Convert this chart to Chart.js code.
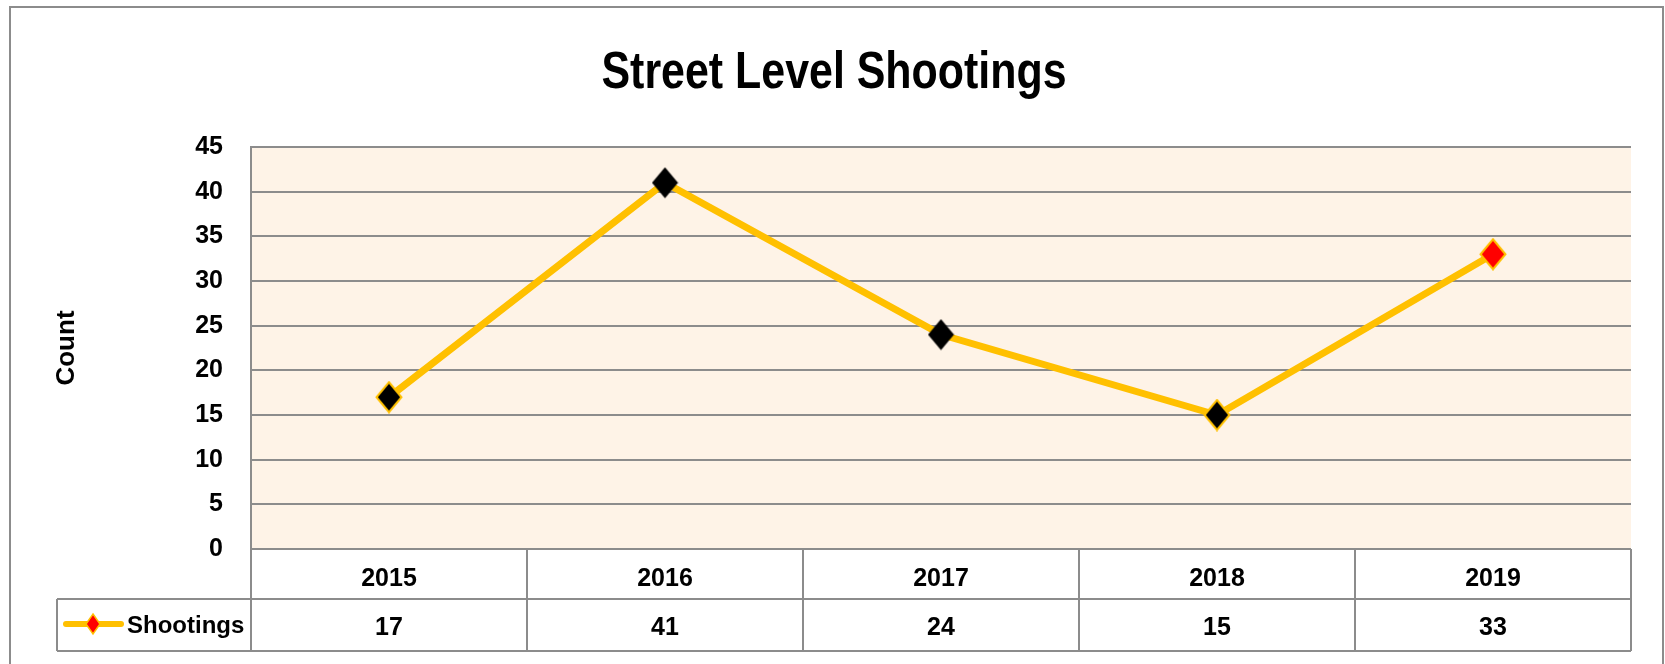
<!DOCTYPE html>
<html>
<head>
<meta charset="utf-8">
<script src="https://cdn.jsdelivr.net/npm/chart.js@4.4.1/dist/chart.umd.min.js"></script>
<style>
  html, body { margin: 0; padding: 0; background: #fff; }
  canvas { display: block; }
</style>
</head>
<body>
<canvas id="shootingsChart" width="1665" height="664"></canvas>
<script>
// Datos del gráfico
const years = ['2015', '2016', '2017', '2018', '2019'];
const shootings = [17, 41, 24, 15, 33];
const seriesName = 'Shootings';
const chartTitle = 'Street Level Shootings';
const yMin = 0, yMax = 45, yStep = 5;

const gold = '#ffc000';
const gridGray = '#8c8c8c';

// Rombo como imagen (un poco más alto que ancho, como en el original)
function diamond(fill, stroke, w, h) {
    const c = document.createElement('canvas');
    c.width = w;
    c.height = h;
    const g = c.getContext('2d');
    const lw = stroke ? 2 : 0;
    g.beginPath();
    g.moveTo(w / 2, lw / 2 + 0.5);
    g.lineTo(w - lw / 2 - 0.5, h / 2);
    g.lineTo(w / 2, h - lw / 2 - 0.5);
    g.lineTo(lw / 2 + 0.5, h / 2);
    g.closePath();
    g.fillStyle = fill;
    g.fill();
    if (stroke) {
        g.lineWidth = lw;
        g.strokeStyle = stroke;
        g.stroke();
    }
    return c;
}

const dBlackGold = diamond('#000', gold, 28, 33);
const dBlack = diamond('#000', null, 27, 32);
const dRedGold = diamond('#ff0000', gold, 28, 33);

// Fondo, marco exterior, título y tabla de datos
const tablePlugin = {
    id: 'dataTable',
    beforeDraw(chart) {
        const { ctx, chartArea: a } = chart;
        ctx.save();
        ctx.fillStyle = '#fef3e7';
        ctx.fillRect(a.left, a.top, a.right - a.left, a.bottom - a.top);
        ctx.strokeStyle = gridGray;
        ctx.lineWidth = 2;
        ctx.beginPath();
        ctx.moveTo(10, 664);
        ctx.lineTo(10, 7);
        ctx.lineTo(1663, 7);
        ctx.lineTo(1663, 664);
        ctx.stroke();

        // título estrecho (tipo Calibri)
        ctx.font = 'bold 52px "Liberation Sans", Arial, sans-serif';
        const w = ctx.measureText(chartTitle).width;
        ctx.translate(834, 88);
        ctx.scale(465 / w, 1);
        ctx.fillStyle = '#000';
        ctx.textAlign = 'center';
        ctx.textBaseline = 'alphabetic';
        ctx.fillText(chartTitle, 0, 0);
        ctx.restore();
    },
    afterDraw(chart) {
        const { ctx, chartArea: a, scales: { x } } = chart;
        const half = (a.right - a.left) / years.length / 2;
        const top = a.bottom, mid = a.bottom + 50, bot = a.bottom + 102;
        const legendLeft = 57;
        ctx.save();
        ctx.strokeStyle = gridGray;
        ctx.lineWidth = 2;
        ctx.beginPath();
        ctx.moveTo(a.left, top); ctx.lineTo(a.right, top);
        ctx.moveTo(legendLeft, mid); ctx.lineTo(a.right, mid);
        ctx.moveTo(legendLeft, bot); ctx.lineTo(a.right, bot);
        ctx.moveTo(legendLeft, mid); ctx.lineTo(legendLeft, bot);
        years.forEach((y, i) => {
            const px = x.getPixelForValue(i) - half;
            ctx.moveTo(px, top); ctx.lineTo(px, bot);
        });
        ctx.moveTo(a.right, top); ctx.lineTo(a.right, bot);
        ctx.stroke();

        // valores
        ctx.fillStyle = '#000';
        ctx.font = 'bold 25px "Liberation Sans", Arial, sans-serif';
        ctx.textAlign = 'center';
        ctx.textBaseline = 'middle';
        shootings.forEach((v, i) => ctx.fillText(String(v), x.getPixelForValue(i), mid + 29));

        // clave de leyenda
        ctx.strokeStyle = gold;
        ctx.lineWidth = 6;
        ctx.lineCap = 'round';
        ctx.beginPath();
        ctx.moveTo(66, mid + 25);
        ctx.lineTo(121, mid + 25);
        ctx.stroke();
        ctx.beginPath();
        ctx.moveTo(93, mid + 15);
        ctx.lineTo(100, mid + 25);
        ctx.lineTo(93, mid + 35);
        ctx.lineTo(86, mid + 25);
        ctx.closePath();
        ctx.fillStyle = '#ff0000';
        ctx.fill();
        ctx.lineWidth = 1.5;
        ctx.stroke();

        ctx.fillStyle = '#000';
        ctx.font = 'bold 24px "Liberation Sans", Arial, sans-serif';
        ctx.textAlign = 'left';
        ctx.fillText(seriesName, 127, mid + 27);
        ctx.restore();
    }
};

Chart.defaults.font.family = '"Liberation Sans", Arial, sans-serif';
Chart.defaults.font.weight = 'bold';
Chart.defaults.color = '#000';

const ctx = document.getElementById('shootingsChart').getContext('2d');
const shootingsChart = new Chart(ctx, {
    type: 'line',
    data: {
        labels: years,
        datasets: [{
            label: seriesName,
            data: shootings,
            borderColor: gold,
            borderWidth: 7,
            tension: 0,
            pointStyle: [dBlackGold, dBlack, dBlack, dBlackGold, dRedGold],
            pointRadius: 14
        }]
    },
    options: {
        responsive: false,
        animation: false,
        events: [],
        layout: {
            padding: { left: 37, right: 34, top: 147, bottom: 0 }
        },
        scales: {
            x: {
                offset: true,
                grid: { display: false },
                border: { display: false },
                ticks: {
                    padding: 7,
                    font: { size: 25, weight: 'bold', lineHeight: 1.2 }
                },
                afterFit: (scale) => { scale.height = 115; }
            },
            y: {
                min: yMin,
                max: yMax,
                ticks: {
                    stepSize: yStep,
                    padding: 28,
                    font: { size: 25, weight: 'bold' }
                },
                grid: {
                    color: gridGray,
                    lineWidth: 2,
                    drawTicks: false
                },
                border: { display: true, color: gridGray, width: 2 },
                title: {
                    display: true,
                    text: 'Count',
                    padding: { top: 14, bottom: 0 },
                    font: { size: 26, weight: 'bold', lineHeight: 1.2 }
                },
                afterFit: (scale) => { scale.width = 214; }
            }
        },
        plugins: {
            legend: { display: false },
            tooltip: { enabled: false },
            title: { display: false }
        }
    },
    plugins: [tablePlugin]
});
</script>
</body>
</html>
